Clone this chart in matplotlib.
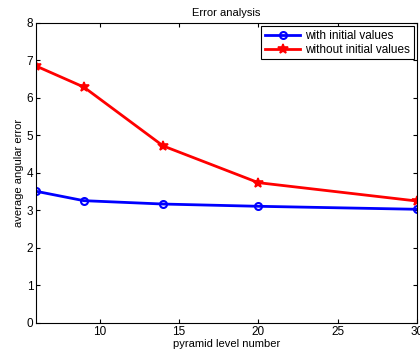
import matplotlib.pyplot as plt

levels = [6, 9, 14, 20, 30]
with_init = [3.51, 3.26, 3.17, 3.11, 3.03]
without_init = [6.85, 6.29, 4.72, 3.74, 3.25]

plt.rcParams['font.family'] = 'Liberation Sans'
plt.rcParams['font.size'] = 8.5

fig = plt.figure(figsize=(4.2, 3.58), dpi=100)
ax = fig.add_axes([0.086, 0.098, 0.907, 0.838])

ax.plot(levels, with_init, '-o', color='blue', lw=2, ms=5, mfc='none', mew=1.5,
        label='with initial values')
ax.plot(levels, without_init, '-*', color='red', lw=2, ms=7, mew=1.2,
        label='without initial values')

ax.set_xlim(6, 30)
ax.set_ylim(0, 8)
ax.set_xticks([10, 15, 20, 25, 30])
ax.set_yticks(range(0, 9))
ax.tick_params(direction='in', top=True, right=True, length=3, pad=2)
ax.set_title('Error analysis', fontsize=8, pad=5)
ax.set_xlabel('pyramid level number', fontsize=8, labelpad=1)
ax.set_ylabel('average angular error', fontsize=8, labelpad=2)

leg = ax.legend(loc='upper right', fancybox=False, edgecolor='black',
                framealpha=1, borderaxespad=0.3, handlelength=3.0,
                borderpad=0.3, labelspacing=0.15, handletextpad=0.4)
leg.get_frame().set_linewidth(0.8)

fig.savefig('out.png', dpi=100)
